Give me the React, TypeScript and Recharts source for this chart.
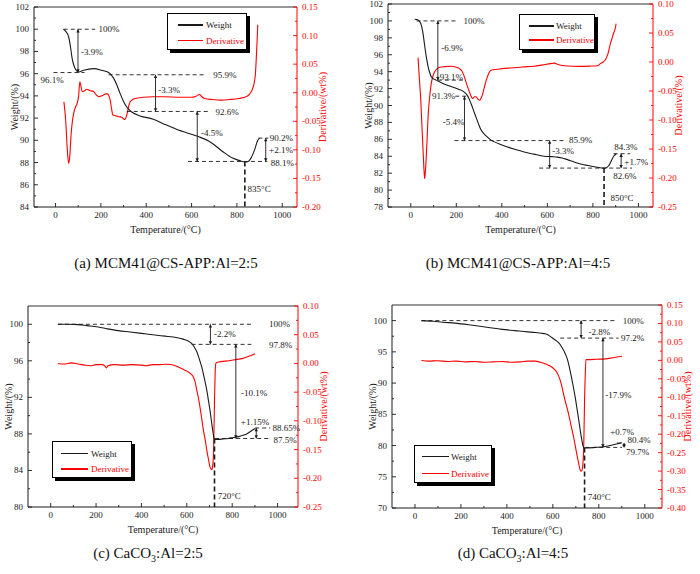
import React from 'react';
import { ComposedChart, Line, XAxis, YAxis, ReferenceLine, ReferenceDot } from 'recharts';

const SERIF = '"Liberation Serif", "Times New Roman", serif';
const RED = '#ff0000';
const INK = '#1a1a1a';

type Pt = [number, number];

// [temperature °C, weight %]  /  [temperature °C, derivative]
const weightA: Pt[] = [[35,100],[45,99.8],[58,99.3],[66,98.4],[73,97.4],[80,96.8],[88,96.4],[102,96.15],[124,96.3],[168,96.45],[204,96.3],[234,96.1],[256,95.6],[270,95.0],[285,94.2],[300,93.5],[314,93.0],[336,92.55],[373,92.2],[431,91.9],[475,91.5],[533,91.0],[606,90.5],[635,90.3],[679,89.9],[737,89.0],[781,88.4],[815,88.15],[835,88.05],[850,88.1],[862,88.4],[877,89.1],[892,90.0],[900,90.2]];
const derivA: Pt[] = [[37,-0.016],[45,-0.05],[52,-0.1],[58,-0.124],[63,-0.11],[69,-0.071],[75,-0.048],[80,-0.036],[88,-0.025],[95,-0.019],[102,-0.005],[107,0.019],[112,0.012],[117,0.002],[125,0.003],[139,0.006],[150,0.004],[168,0.002],[180,-0.004],[190,-0.007],[200,-0.006],[212,-0.004],[222,-0.002],[229,-0.002],[236,-0.006],[241,-0.013],[247,-0.028],[253,-0.039],[262,-0.04],[270,-0.041],[282,-0.042],[292,-0.043],[300,-0.046],[306,-0.047],[314,-0.039],[322,-0.025],[329,-0.016],[340,-0.012],[351,-0.01],[387,-0.008],[430,-0.007],[475,-0.007],[550,-0.008],[600,-0.008],[620,-0.006],[635,-0.003],[645,-0.007],[657,-0.01],[693,-0.012],[730,-0.013],[766,-0.012],[810,-0.01],[840,-0.007],[855,-0.003],[867,0.005],[877,0.019],[882,0.035],[885,0.057],[889,0.09],[892,0.119]];

const weightB: Pt[] = [[17,100.2],[32,100.1],[44,99.7],[49,99.2],[54,98.5],[59,97.5],[64,96.5],[70,95.5],[76,94.6],[83,93.9],[90,93.4],[100,93.15],[112,93.0],[130,92.75],[149,92.5],[170,92.3],[192,92.1],[212,91.9],[229,91.7],[240,91.45],[248,91.2],[256,90.8],[265,90.2],[276,89.4],[287,88.6],[298,87.8],[309,87.1],[320,86.7],[331,86.4],[348,86.0],[367,85.7],[395,85.4],[425,85.1],[460,84.8],[498,84.5],[540,84.25],[586,84.0],[620,83.95],[644,83.9],[665,83.8],[688,83.6],[720,83.3],[760,83.0],[790,82.85],[819,82.7],[848,82.6],[860,82.65],[870,82.9],[880,83.4],[891,84.0],[903,84.3]];
const derivB: Pt[] = [[32,0.0075],[38,-0.03],[44,-0.066],[49,-0.11],[54,-0.152],[58,-0.185],[61,-0.201],[64,-0.19],[68,-0.164],[72,-0.13],[76,-0.095],[83,-0.06],[90,-0.037],[97,-0.025],[105,-0.017],[115,-0.012],[127,-0.009],[150,-0.008],[178,-0.0074],[200,-0.009],[214,-0.0114],[225,-0.016],[236,-0.026],[247,-0.04],[258,-0.052],[265,-0.059],[272,-0.063],[280,-0.06],[287,-0.06],[295,-0.064],[302,-0.066],[309,-0.062],[316,-0.055],[323,-0.044],[331,-0.032],[340,-0.022],[352,-0.0143],[382,-0.0125],[410,-0.011],[440,-0.0103],[480,-0.009],[510,-0.008],[542,-0.0074],[580,-0.005],[615,-0.0028],[630,-0.002],[644,-0.004],[665,-0.006],[688,-0.007],[740,-0.0075],[790,-0.007],[820,-0.0065],[833,-0.0028],[845,0.0],[855,0.004],[866,0.014],[877,0.032],[885,0.042],[891,0.05],[897,0.056],[902,0.066]];

const weightC: Pt[] = [[32,100],[80,100],[121,99.96],[160,99.85],[209,99.7],[250,99.5],[297,99.3],[350,99.15],[401,99.0],[450,98.85],[504,98.7],[540,98.6],[563,98.5],[580,98.4],[592,98.3],[607,98.15],[621,97.9],[633,97.5],[644,97.0],[655,96.2],[666,95.3],[677,94.1],[688,92.8],[695,91.7],[702,90.6],[708,89.5],[714,88.4],[718,87.8],[722,87.4],[739,87.4],[760,87.45],[783,87.5],[805,87.6],[828,87.7],[848,87.85],[864,88.0],[882,88.3],[901,88.6]];
const derivC: Pt[] = [[32,0.0],[60,-0.001],[90,0.001],[120,-0.001],[150,-0.003],[175,-0.004],[200,-0.002],[230,-0.002],[240,-0.005],[246,-0.008],[252,-0.004],[280,-0.002],[320,-0.003],[360,-0.002],[400,-0.003],[420,-0.004],[450,-0.002],[480,-0.002],[504,-0.0015],[530,-0.002],[555,-0.005],[577,-0.009],[592,-0.012],[607,-0.015],[620,-0.019],[629,-0.0235],[637,-0.033],[644,-0.047],[651,-0.06],[658,-0.076],[666,-0.097],[673,-0.116],[681,-0.133],[688,-0.151],[695,-0.166],[702,-0.18],[707,-0.184],[710,-0.185],[714,-0.178],[717,-0.163],[720,-0.11],[722,-0.064],[725,-0.015],[728,0.0],[739,0.0026],[770,0.004],[798,0.0055],[820,0.007],[842,0.0084],[870,0.012],[901,0.017]];

const weightD: Pt[] = [[28,100],[80,99.9],[120,99.75],[173,99.6],[250,99.25],[319,98.9],[380,98.6],[435,98.4],[490,98.2],[523,98.1],[550,97.98],[566,97.9],[580,97.7],[595,97.3],[610,96.9],[624,96.5],[640,95.7],[654,94.7],[665,93.6],[675,92.0],[686,90.0],[697,87.8],[706,85.7],[715,83.5],[721,82.0],[726,80.9],[731,80.0],[736,79.6],[741,79.6],[785,79.7],[828,79.85],[850,80.0],[872,80.2],[901,80.45]];
const derivD: Pt[] = [[28,-0.0003],[60,-0.002],[100,-0.001],[140,-0.003],[180,-0.002],[220,-0.004],[260,-0.003],[300,-0.005],[340,-0.004],[380,-0.003],[420,-0.005],[460,-0.004],[490,-0.002],[523,-0.002],[545,-0.005],[566,-0.009],[580,-0.013],[595,-0.018],[606,-0.024],[617,-0.032],[625,-0.042],[632,-0.054],[639,-0.07],[646,-0.09],[657,-0.117],[668,-0.144],[679,-0.176],[690,-0.207],[698,-0.233],[705,-0.257],[712,-0.278],[719,-0.297],[723,-0.3],[726,-0.299],[730,-0.285],[734,-0.243],[736,-0.18],[738,-0.108],[741,-0.04],[744,0.002],[755,0.002],[790,0.003],[828,0.004],[860,0.007],[880,0.009],[901,0.011]];

// tick labels
const xLabels = [0, 200, 400, 600, 800, 1000];
const wLabelsA = [84, 86, 88, 90, 92, 94, 96, 98, 100, 102];
const dLabelsA = [-0.2, -0.15, -0.1, -0.05, 0, 0.05, 0.1, 0.15];
const wLabelsB = [78, 80, 82, 84, 86, 88, 90, 92, 94, 96, 98, 100, 102];
const dLabelsB = [-0.25, -0.2, -0.15, -0.1, -0.05, 0, 0.05, 0.1];
const wLabelsC = [80, 84, 88, 92, 96, 100];
const dLabelsC = [-0.25, -0.2, -0.15, -0.1, -0.05, 0, 0.05, 0.1];
const wLabelsD = [70, 75, 80, 85, 90, 95, 100];
const dLabelsD = [-0.4, -0.35, -0.3, -0.25, -0.2, -0.15, -0.1, -0.05, 0, 0.05, 0.1, 0.15];

// annotations: dashed [t1, t2, w], arrows [t, w1, w2], notes [t, w, text, anchor]
type Note = [number, number, string, ('start' | 'end')?];
const dashA: [number, number, number][] = [[36,175,100],[-9,128,96.1],[234,664,95.9],[314,679,92.6],[584,934,88.1],[895,939,90.2]];
const arrowA: [number, number, number][] = [[99,100,96.1],[441,95.9,92.6],[625,92.6,88.1],[927,88.1,90.2]];
const notesA: Note[] = [[190,100,'100%'],[112,97.98,'-3.9%'],[-66,95.43,'96.1%'],[696,95.9,'95.9%'],[453,94.53,'-3.3%'],[705,92.6,'92.6%'],[642,90.68,'-4.5%'],[945,90.25,'90.2%'],[942,89.1,'+2.1%'],[949,88.0,'88.1%'],[847,85.65,'835°C']];

const dashB: [number, number, number][] = [[25,207,100],[119,236,93.0],[195,243,91.1],[192,673,85.85],[564,972,82.6],[891,964,84.3]];
const arrowB: [number, number, number][] = [[119,100,93.0],[236,91.1,85.85],[610,85.85,82.6],[924,82.6,84.3]];
const notesB: Note[] = [[232,100,'100%'],[134,96.85,'-6.9%'],[127,93.4,'93.1%'],[195,91.1,'91.3%','end'],[141,88.05,'-5.4%'],[695,85.9,'85.9%'],[622,84.6,'-3.3%'],[894,85.1,'84.3%'],[938,83.3,'+1.7%'],[889,81.74,'82.6%'],[877,79.06,'850°C']];

const dashC: [number, number, number][] = [[32,884,100],[621,884,97.8],[725,968,87.5],[901,968,88.65]];
const arrowC: [number, number, number][] = [[704,100,97.8],[816,97.8,87.5],[906,87.5,88.65]];
const notesC: Note[] = [[962,100,'100%'],[720,98.98,'-2.2%'],[962,97.8,'97.8%'],[839,92.48,'-10.1%'],[838,89.3,'+1.15%'],[978,88.7,'88.65%'],[982,87.4,'87.5%'],[736,81.17,'720°C']];

const dashD: [number, number, number][] = [[28,879,100],[632,886,97.2],[741,901,79.7],[879,908,80.4]];
const arrowD: [number, number, number][] = [[723,100,97.2],[818,97.2,79.7],[910,79.7,80.4]];
const notesD: Note[] = [[904,100,'100%'],[755,98.14,'-2.8%'],[897,97.2,'97.2%'],[828,88.14,'-17.9%'],[850,82.2,'+0.7%'],[925,80.85,'80.4%'],[918,79.05,'79.7%'],[752,71.8,'740°C']];

const withMinor = (labels: number[]) => {
  const out: number[] = [];
  labels.forEach((v, i) => {
    out.push(v);
    if (i < labels.length - 1) out.push((v + labels[i + 1]) / 2);
  });
  return out;
};

const makeTick = (side: 'left' | 'right' | 'bottom', labels: number[], fmt: (v: number) => string, color: string) =>
  (p: any) => {
    const v = p.payload.value;
    const major = labels.some(l => Math.abs(l - v) < 1e-6);
    const len = major ? 4 : 2;
    const txt = { fontSize: 9, fontFamily: SERIF, fill: color };
    if (side === 'bottom') {
      return (
        <g>
          <line x1={p.x} y1={p.y} x2={p.x} y2={p.y - len} stroke={color} strokeWidth={0.9} />
          {major && <text x={p.x} y={p.y + 11} textAnchor="middle" {...txt}>{fmt(v)}</text>}
        </g>
      );
    }
    const dir = side === 'left' ? 1 : -1;
    return (
      <g>
        <line x1={p.x} y1={p.y} x2={p.x + dir * len} y2={p.y} stroke={color} strokeWidth={0.9} />
        {major && (
          <text x={p.x - dir * 5} y={p.y + 3} textAnchor={side === 'left' ? 'end' : 'start'} {...txt}>{fmt(v)}</text>
        )}
      </g>
    );
  };

const arrowShape = (p: any) => {
  const { x1, y1, x2, y2 } = p;
  const dir = y2 > y1 ? 1 : -1;
  const h = 3.2, hw = 1.7;
  return (
    <g>
      <line x1={x1} y1={y1} x2={x2} y2={y2} stroke={INK} strokeWidth={0.9} />
      <path d={`M${x1},${y1} l${-hw},${dir * h} h${2 * hw} z`} fill={INK} />
      <path d={`M${x2},${y2} l${-hw},${-dir * h} h${2 * hw} z`} fill={INK} />
    </g>
  );
};

function AxisTitle({ x, y, text, rotate, color }: { x: number; y: number; text: string; rotate?: boolean; color: string }) {
  return (
    <text x={x} y={y} textAnchor="middle" dominantBaseline="central" fontSize={10} fontFamily={SERIF} fill={color}
      transform={rotate ? `rotate(-90 ${x} ${y})` : undefined}>{text}</text>
  );
}

interface PanelCfg {
  box: [number, number, number, number]; // plot area on page: left, top, right, bottom
  xDomain: [number, number];
  wDomain: [number, number];
  dDomain: [number, number];
  wLabels: number[];
  dLabels: number[];
  weight: Pt[];
  deriv: Pt[];
  dash: [number, number, number][];
  arrows: [number, number, number][];
  drop: [number, number, number];
  notes: Note[];
  dTitle: string;
  xTitle: [number, number];
  wTitle: [number, number];
  dTitleAt: [number, number];
}

function Panel({ c }: { c: PanelCfg }) {
  const ML = 40, MR = 50, XH = 44, MT = 6;
  const [L, T, R, B] = c.box;
  const ox = L - ML, oy = T - MT;
  const W = R - L + ML + MR, H = B - T + MT + XH;
  const wRows = c.weight.map(([t, v]) => ({ t, v }));
  const dRows = c.deriv.map(([t, v]) => ({ t, v }));
  return (
    <div style={{ position: 'absolute', left: ox, top: oy }}>
      <ComposedChart width={W} height={H} margin={{ top: MT, right: 0, bottom: 0, left: 0 }}>
        <XAxis dataKey="t" type="number" domain={c.xDomain} allowDataOverflow ticks={withMinor(xLabels)} interval={0}
          height={XH} tickLine={false} tickSize={0} tickMargin={0} axisLine={{ stroke: INK }}
          tick={makeTick('bottom', xLabels, v => String(v), INK)}
          label={<AxisTitle x={c.xTitle[0] - ox} y={c.xTitle[1] - oy} text="Temperature/(°C)" color={INK} />} />
        <YAxis yAxisId="w" orientation="left" type="number" domain={c.wDomain} allowDataOverflow
          ticks={withMinor(c.wLabels)} interval={0} width={ML} tickLine={false} tickSize={0} tickMargin={0}
          axisLine={{ stroke: INK }} tick={makeTick('left', c.wLabels, v => String(v), INK)}
          label={<AxisTitle x={c.wTitle[0] - ox} y={c.wTitle[1] - oy} text="Weight/(%)" rotate color={INK} />} />
        <YAxis yAxisId="d" orientation="right" type="number" domain={c.dDomain} allowDataOverflow
          ticks={withMinor(c.dLabels)} interval={0} width={MR} tickLine={false} tickSize={0} tickMargin={0}
          axisLine={{ stroke: RED }} tick={makeTick('right', c.dLabels, v => v.toFixed(2), RED)}
          label={<AxisTitle x={c.dTitleAt[0] - ox} y={c.dTitleAt[1] - oy} text={c.dTitle} rotate color={RED} />} />
        <ReferenceLine yAxisId="w" y={c.wDomain[1]} stroke="#333" strokeWidth={1.2} ifOverflow="visible" />
        <Line yAxisId="d" data={dRows} dataKey="v" type="monotone" stroke={RED} strokeWidth={1.1}
          dot={false} activeDot={false} isAnimationActive={false} />
        <Line yAxisId="w" data={wRows} dataKey="v" type="monotone" stroke={INK} strokeWidth={1.1}
          dot={false} activeDot={false} isAnimationActive={false} />
        {c.dash.map(([t1, t2, w], i) => (
          <ReferenceLine key={`h${i}`} yAxisId="w" ifOverflow="visible" segment={[{ x: t1, y: w }, { x: t2, y: w }]}
            stroke={INK} strokeWidth={0.9} strokeDasharray="4 3" />
        ))}
        <ReferenceLine yAxisId="w" ifOverflow="visible"
          segment={[{ x: c.drop[0], y: c.drop[1] }, { x: c.drop[0], y: c.drop[2] }]}
          stroke={INK} strokeWidth={1.6} strokeDasharray="5 3" />
        {c.arrows.map(([t, w1, w2], i) => (
          <ReferenceLine key={`a${i}`} yAxisId="w" ifOverflow="visible" segment={[{ x: t, y: w1 }, { x: t, y: w2 }]}
            shape={arrowShape} />
        ))}
        {c.notes.map(([t, w, text, anchor], i) => (
          <ReferenceDot key={`n${i}`} yAxisId="w" x={t} y={w} r={1} ifOverflow="visible"
            shape={(p: any) => (
              <text x={p.cx} y={p.cy} dy="0.35em" textAnchor={anchor || 'start'} fontSize={9}
                fontFamily={SERIF} fill={INK}>{text}</text>
            )} />
        ))}
      </ComposedChart>
    </div>
  );
}

function LegendBox({ left, top, width, height, rows, lineX, lineLen, textX }:
  { left: number; top: number; width: number; height: number; rows: [number, number]; lineX: number; lineLen: number; textX: number }) {
  const items = [{ name: 'Weight', color: INK }, { name: 'Derivative', color: RED }];
  return (
    <div style={{ position: 'absolute', left, top, width, height, border: '1px solid #000', background: '#fff',
      boxShadow: '3px 3px 0 #000', boxSizing: 'border-box' }}>
      {items.map((it, i) => (
        <React.Fragment key={it.name}>
          <div style={{ position: 'absolute', left: lineX, top: rows[i] - 1, width: lineLen, height: 1.6, background: it.color }} />
          <div style={{ position: 'absolute', left: textX, top: rows[i] - 7, fontSize: 9, lineHeight: '14px',
            fontFamily: SERIF, color: it.color, whiteSpace: 'nowrap' }}>{it.name}</div>
        </React.Fragment>
      ))}
    </div>
  );
}

function Caption({ cx, cy, children }: { cx: number; cy: number; children: React.ReactNode }) {
  return (
    <div style={{ position: 'absolute', left: cx - 150, top: cy - 10, width: 300, textAlign: 'center',
      fontSize: 15, lineHeight: '20px', fontFamily: SERIF, color: '#111' }}>{children}</div>
  );
}

const panels: PanelCfg[] = [
  {
    box: [34, 7, 297, 207], xDomain: [-95, 1065], wDomain: [84, 102], dDomain: [-0.2, 0.15],
    wLabels: wLabelsA, dLabels: dLabelsA, weight: weightA, deriv: derivA,
    dash: dashA, arrows: arrowA, drop: [835, 88.1, 84], notes: notesA, dTitle: 'Derivative/(wt%)',
    xTitle: [157, 229], wTitle: [5, 110], dTitleAt: [332, 107],
  },
  {
    box: [388, 4, 653, 207], xDomain: [-100, 1064], wDomain: [78, 102], dDomain: [-0.25, 0.1],
    wLabels: wLabelsB, dLabels: dLabelsB, weight: weightB, deriv: derivB,
    dash: dashB, arrows: arrowB, drop: [849, 82.6, 78], notes: notesB, dTitle: 'Derivative/(%)',
    xTitle: [515, 229], wTitle: [363, 107], dTitleAt: [688, 110],
  },
  {
    box: [28, 306, 298, 507], xDomain: [-100, 1090], wDomain: [80, 102], dDomain: [-0.25, 0.1],
    wLabels: wLabelsC, dLabels: dLabelsC, weight: weightC, deriv: derivC,
    dash: dashC, arrows: arrowC, drop: [722, 87.5, 80], notes: notesC, dTitle: 'Derivative/(wt%)',
    xTitle: [153, 532], wTitle: [4, 404], dTitleAt: [335, 410],
  },
  {
    box: [392, 305, 662, 508], xDomain: [-100, 1075], wDomain: [70, 102.5], dDomain: [-0.4, 0.15],
    wLabels: wLabelsD, dLabels: dLabelsD, weight: weightD, deriv: derivD,
    dash: dashD, arrows: arrowD, drop: [738, 79.7, 70], notes: notesD, dTitle: 'Derivative/(wt%)',
    xTitle: [521, 532], wTitle: [367, 402], dTitleAt: [696, 407],
  },
];

export default function App() {
  return (
    <div style={{ position: 'absolute', left: 0, top: 0, width: 700, height: 574, background: '#fff', overflow: 'hidden' }}>
      {panels.map((c, i) => <Panel key={i} c={c} />)}
      <LegendBox left={167} top={12.5} width={80} height={37} rows={[11.5, 27]} lineX={9.5} lineLen={25} textX={38} />
      <LegendBox left={519} top={14} width={76} height={36} rows={[11, 25.3]} lineX={9} lineLen={25} textX={36} />
      <LegendBox left={52} top={441} width={80} height={37} rows={[11.7, 27.3]} lineX={8} lineLen={26.7} textX={38} />
      <LegendBox left={414} top={445} width={78} height={38} rows={[10.7, 27.7]} lineX={7} lineLen={27} textX={36} />
      <Caption cx={166} cy={263}>(a) MCM41@CS-APP:Al=2:5</Caption>
      <Caption cx={518} cy={263}>(b) MCM41@CS-APP:Al=4:5</Caption>
      <Caption cx={148} cy={553}>(c) CaCO<sub style={{ fontSize: 10 }}>3</sub>:Al=2:5</Caption>
      <Caption cx={513} cy={553}>(d) CaCO<sub style={{ fontSize: 10 }}>3</sub>:Al=4:5</Caption>
    </div>
  );
}
